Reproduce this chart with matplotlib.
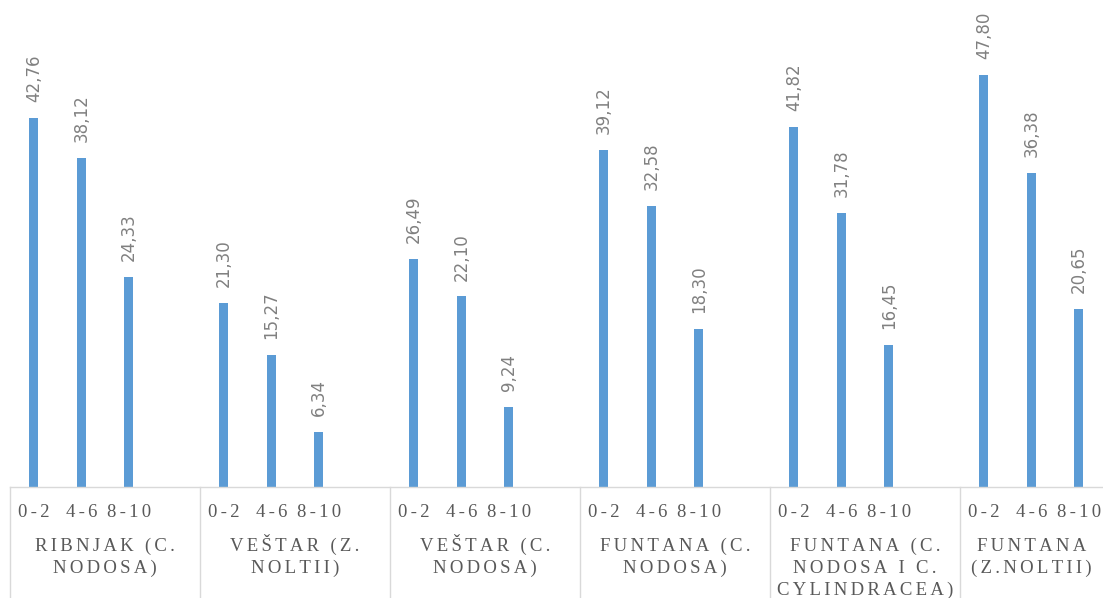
import numpy as np
import matplotlib
matplotlib.use("Agg")
import matplotlib.pyplot as plt
from matplotlib.transforms import blended_transform_factory
from matplotlib.lines import Line2D

sites = ["RIBNJAK (C.\nNODOSA)", "VEŠTAR (Z.\nNOLTII)", "VEŠTAR (C.\nNODOSA)",
         "FUNTANA (C.\nNODOSA)", "FUNTANA (C.\nNODOSA I C.\nCYLINDRACEA)", "FUNTANA\n(Z.NOLTII)"]
depths = ["0-2", "4-6", "8-10"]
d_0_2 = [42.76, 21.30, 26.49, 39.12, 41.82, 47.80]
d_4_6 = [38.12, 15.27, 22.10, 32.58, 31.78, 36.38]
d_8_10 = [24.33, 6.34, 9.24, 18.30, 16.45, 20.65]
series = [d_0_2, d_4_6, d_8_10]

W, H = 1103, 598
fig = plt.figure(figsize=(W / 100, H / 100), dpi=100)
# plot area runs past the right edge, like the original crop
ax = fig.add_axes([10 / W, (H - 487) / H, 1140 / W, 487 / H])

bar_col = "#5b9bd5"
HS = "\u200a"


def spaced(s, n=2):
    return (HS * n).join(s)


xs_all = []
for i, vals in enumerate(series):
    x = np.arange(len(sites)) * 4 + i + 0.5
    xs_all.append(x)
    ax.bar(x, vals, width=0.19, color=bar_col)
    for xi, v in zip(x, vals):
        ax.annotate(f"{v:.2f}".replace(".", ","), (xi, v), xytext=(0, 11.5),
                    textcoords="offset points", rotation=90, ha="center", va="bottom",
                    fontsize=12, color="#808080", family="DejaVu Sans")

ax.set_xlim(0, len(sites) * 4)
ax.set_ylim(0, 487 / 8.62)
ax.set_xticks([])
ax.set_yticks([])
for s in ["top", "right", "left"]:
    ax.spines[s].set_visible(False)
ax.spines["bottom"].set_color("#d9d9d9")
ax.spines["bottom"].set_linewidth(1)

tr = blended_transform_factory(ax.transData, fig.transFigure)
serif = ["Liberation Serif", "DejaVu Serif"]
for i, lab in enumerate(depths):
    for xi in xs_all[i]:
        fig.text(xi, 1 - 517 / H, spaced(lab), transform=tr, ha="center", va="baseline",
                 fontsize=13.5, color="#595959", family=serif)

# the last group is cut by the figure edge: centre its label in the visible part
x_edge = ax.transData.inverted().transform((W, 0))[0]
for g, name in enumerate(sites):
    cx = g * 4 + 2
    if g == len(sites) - 1:
        cx = (g * 4 + x_edge) / 2
    for k, line in enumerate(name.split("\n")):
        fig.text(cx, 1 - (551 + 22 * k) / H, spaced(line), transform=tr, ha="center",
                 va="baseline", fontsize=13.5, color="#595959", family=serif)

for g in range(len(sites) + 1):
    fig.add_artist(Line2D([g * 4, g * 4], [0, 1 - 487 / H], transform=tr,
                          color="#d9d9d9", lw=1))

fig.savefig("out.png", dpi=100)
